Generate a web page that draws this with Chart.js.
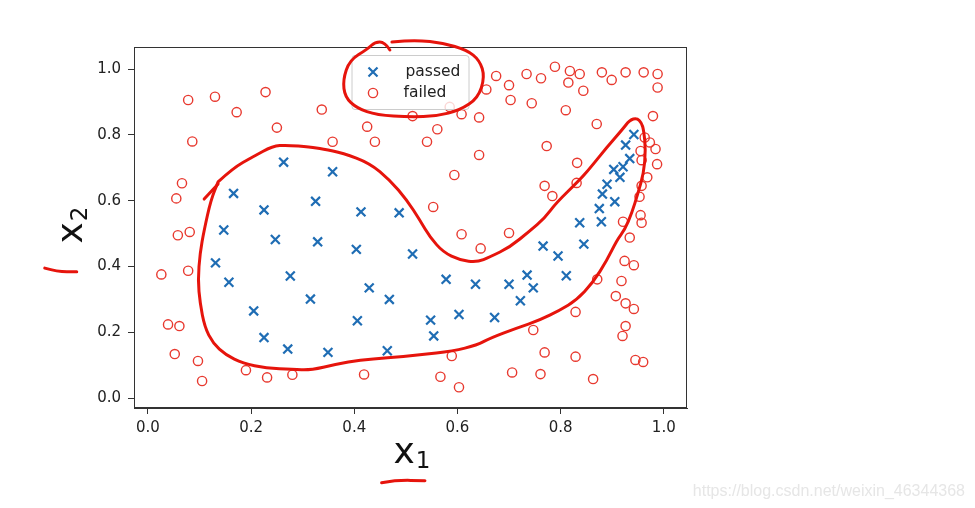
<!DOCTYPE html>
<html>
<head>
<meta charset="utf-8">
<script src="https://cdn.jsdelivr.net/npm/chart.js@4/dist/chart.umd.min.js"></script>
<style>
  html, body { margin: 0; padding: 0; background: #fff; }
  #wrap { width: 975px; height: 508px; position: relative; }
</style>
</head>
<body>
<div id="wrap"><canvas id="chart" width="975" height="508"></canvas></div>
<script>
// test scores of the samples
const passedX1 = [0.263, 0.166, 0.225, 0.325, 0.358, 0.413, 0.487, 0.942, 0.926, 0.934,
  0.921, 0.903, 0.915, 0.890, 0.881, 0.905, 0.875, 0.879, 0.837, 0.147, 0.247, 0.329,
  0.131, 0.157, 0.276, 0.315, 0.205, 0.225, 0.271, 0.404, 0.513, 0.429, 0.468, 0.578,
  0.635, 0.406, 0.548, 0.554, 0.603, 0.672, 0.349, 0.464, 0.766, 0.845, 0.795, 0.735,
  0.811, 0.700, 0.747, 0.722];
const passedX2 = [0.717, 0.622, 0.572, 0.598, 0.688, 0.566, 0.563, 0.801, 0.769, 0.728,
  0.703, 0.695, 0.671, 0.650, 0.620, 0.597, 0.576, 0.536, 0.533, 0.511, 0.482, 0.475,
  0.411, 0.352, 0.371, 0.301, 0.265, 0.184, 0.149, 0.452, 0.438, 0.335, 0.300, 0.361,
  0.346, 0.235, 0.237, 0.189, 0.254, 0.245, 0.139, 0.144, 0.462, 0.468, 0.432, 0.374,
  0.372, 0.346, 0.335, 0.296];

const failedX1 = [0.078, 0.130, 0.228, 0.172, 0.337, 0.250, 0.086, 0.066, 0.055,
  0.425, 0.358, 0.440, 0.513, 0.561, 0.541, 0.608, 0.642, 0.656, 0.675, 0.585, 0.642,
  0.594, 0.553,
  0.700, 0.734, 0.762, 0.789, 0.818, 0.815, 0.837, 0.844, 0.880, 0.899, 0.926, 0.961,
  0.988, 0.988, 0.703, 0.744, 0.810, 0.870, 0.979, 0.773, 0.832, 0.769, 0.784, 0.831,
  0.963, 0.973, 0.984, 0.955, 0.957, 0.987, 0.968, 0.957, 0.953, 0.955, 0.957, 0.921,
  0.058, 0.081, 0.026, 0.078, 0.039, 0.061, 0.052, 0.097, 0.105, 0.190, 0.231, 0.280,
  0.608, 0.645, 0.589, 0.419, 0.567, 0.603,
  0.700, 0.934, 0.924, 0.942, 0.871, 0.918, 0.907, 0.926, 0.942, 0.829, 0.926, 0.920,
  0.747, 0.769, 0.829, 0.945, 0.960, 0.706, 0.761, 0.863];
const failedX2 = [0.906, 0.916, 0.930, 0.869, 0.877, 0.822, 0.780, 0.653, 0.607,
  0.825, 0.779, 0.779, 0.857, 0.817, 0.779, 0.863, 0.853, 0.938, 0.979, 0.885, 0.739,
  0.678, 0.581,
  0.951, 0.985, 0.972, 1.007, 0.994, 0.959, 0.985, 0.934, 0.990, 0.967, 0.990, 0.990,
  0.985, 0.944, 0.906, 0.896, 0.875, 0.833, 0.857, 0.766, 0.715, 0.645, 0.614, 0.654,
  0.792, 0.777, 0.757, 0.751, 0.723, 0.711, 0.671, 0.645, 0.612, 0.556, 0.533, 0.536,
  0.495, 0.505, 0.376, 0.387, 0.224, 0.219, 0.134, 0.113, 0.052, 0.085, 0.063, 0.071,
  0.498, 0.455, 0.128, 0.072, 0.065, 0.033,
  0.502, 0.488, 0.417, 0.404, 0.361, 0.356, 0.310, 0.288, 0.271, 0.262, 0.219, 0.189,
  0.207, 0.139, 0.126, 0.116, 0.110, 0.078, 0.073, 0.058];

const seriesNames = ['passed', 'failed'];
const xTicks = [0, 0.2, 0.4, 0.6, 0.8, 1.0];
const yTicks = [0, 0.2, 0.4, 0.6, 0.8, 1.0];
// axis labels: base letter + subscript
const xTitle = ['x', '1'];
const yTitle = ['x', '2'];

// hand drawn red ink on the screenshot, in data units
const inkBoundary = [[0.136, 0.657], [0.165, 0.699], [0.203, 0.733], [0.242, 0.766], [0.269, 0.769],
  [0.314, 0.763], [0.339, 0.757], [0.378, 0.745], [0.430, 0.714], [0.469, 0.663], [0.502, 0.602],
  [0.527, 0.541], [0.547, 0.489], [0.572, 0.444], [0.605, 0.419], [0.638, 0.413], [0.663, 0.429],
  [0.702, 0.459], [0.740, 0.508], [0.769, 0.547], [0.791, 0.593], [0.837, 0.663], [0.857, 0.699],
  [0.890, 0.763], [0.919, 0.815], [0.934, 0.845], [0.948, 0.851], [0.957, 0.836], [0.961, 0.815],
  [0.965, 0.754], [0.961, 0.684], [0.950, 0.623], [0.938, 0.562], [0.924, 0.511], [0.909, 0.480],
  [0.890, 0.419], [0.862, 0.350], [0.831, 0.298], [0.798, 0.267], [0.760, 0.237], [0.715, 0.213],
  [0.663, 0.182], [0.638, 0.161], [0.591, 0.143], [0.527, 0.131], [0.463, 0.122], [0.411, 0.116],
  [0.366, 0.103], [0.314, 0.085], [0.281, 0.088], [0.229, 0.091], [0.184, 0.106], [0.151, 0.131],
  [0.126, 0.167], [0.110, 0.216], [0.101, 0.289], [0.097, 0.359], [0.101, 0.441], [0.109, 0.511],
  [0.122, 0.602], [0.136, 0.657]];
const inkHook = [[0.136, 0.651], [0.109, 0.605]];
const inkLegendLoop = [[0.469, 1.058], [0.459, 1.082], [0.440, 1.082], [0.426, 1.061],
  [0.391, 1.027], [0.378, 0.967], [0.382, 0.915], [0.405, 0.881], [0.444, 0.860], [0.508, 0.854],
  [0.560, 0.857], [0.605, 0.875], [0.640, 0.912], [0.653, 0.976], [0.643, 1.027], [0.618, 1.058],
  [0.572, 1.079], [0.521, 1.088], [0.473, 1.082]];
const inkYMark = [[-0.200, 0.395], [-0.176, 0.384], [-0.138, 0.384]];
const inkXMark = [[0.453, -0.257], [0.482, -0.249], [0.537, -0.251]];

const BLUE = '#1f6db4';
const RED = '#e8392f';
const INK = '#e6140c';

function toPoints(xs, ys) {
  return xs.map((x, i) => ({ x: x, y: ys[i] }));
}

function strokeInk(ctx, chart, pts) {
  const sx = chart.scales.x, sy = chart.scales.y;
  const p = pts.map(q => [sx.getPixelForValue(q[0]), sy.getPixelForValue(q[1])]);
  ctx.beginPath();
  ctx.moveTo(p[0][0], p[0][1]);
  for (let i = 1; i < p.length - 1; i++) {
    const mx = (p[i][0] + p[i + 1][0]) / 2, my = (p[i][1] + p[i + 1][1]) / 2;
    ctx.quadraticCurveTo(p[i][0], p[i][1], mx, my);
  }
  ctx.lineTo(p[p.length - 1][0], p[p.length - 1][1]);
  ctx.stroke();
}

// draws "x" with a mathtext-like subscript, starting at the baseline origin
function drawSubLabel(ctx, parts) {
  ctx.font = '36px "DejaVu Sans"';
  ctx.fillText(parts[0], 0, 0);
  const w = ctx.measureText(parts[0]).width;
  ctx.font = '23px "DejaVu Sans"';
  ctx.fillText(parts[1], w + 1, 5);
}

const framePlugin = {
  id: 'frame',
  afterDatasetsDraw(chart) {
    const { ctx, chartArea: a } = chart;
    ctx.save();
    // top and right spines
    ctx.strokeStyle = '#333';
    ctx.lineWidth = 1;
    ctx.strokeRect(a.left + 0.5, a.top + 0.5, a.right - a.left - 1, a.bottom - a.top - 1);

    // matplotlib style legend, upper centre
    const cx = (a.left + a.right) / 2;
    const bx = cx - 59, by = a.top + 8, bw = 117, bh = 54;
    ctx.fillStyle = 'rgba(255,255,255,0.8)';
    ctx.strokeStyle = '#cccccc';
    ctx.beginPath();
    ctx.roundRect(bx + 0.5, by + 0.5, bw, bh, 3);
    ctx.fill();
    ctx.stroke();
    ctx.font = '15.5px "DejaVu Sans"';
    ctx.textBaseline = 'middle';
    ctx.fillStyle = '#222';
    const rows = [by + 17, by + 38];
    ctx.strokeStyle = BLUE;
    ctx.lineWidth = 2.2;
    ctx.beginPath();
    ctx.moveTo(bx + 17, rows[0] - 4.5); ctx.lineTo(bx + 26, rows[0] + 4.5);
    ctx.moveTo(bx + 26, rows[0] - 4.5); ctx.lineTo(bx + 17, rows[0] + 4.5);
    ctx.stroke();
    ctx.strokeStyle = RED;
    ctx.lineWidth = 1.4;
    ctx.beginPath();
    ctx.arc(bx + 21.5, rows[1], 4.6, 0, Math.PI * 2);
    ctx.stroke();
    ctx.fillText(seriesNames[0], bx + 54, rows[0]);
    ctx.fillText(seriesNames[1], bx + 52, rows[1]);
    ctx.restore();
  },
  afterDraw(chart) {
    const { ctx, chartArea: a } = chart;
    ctx.save();
    // axis labels
    ctx.fillStyle = '#111';
    ctx.textBaseline = 'alphabetic';
    ctx.textAlign = 'left';
    ctx.save();
    ctx.translate((a.left + a.right) / 2 - 17, a.bottom + 55);
    drawSubLabel(ctx, xTitle);
    ctx.restore();
    ctx.save();
    ctx.translate(a.left - 52, (a.top + a.bottom) / 2 + 16);
    ctx.rotate(-Math.PI / 2);
    drawSubLabel(ctx, yTitle);
    ctx.restore();

    ctx.strokeStyle = INK;
    ctx.lineWidth = 3;
    ctx.lineCap = 'round';
    ctx.lineJoin = 'round';
    [inkBoundary, inkHook, inkLegendLoop, inkYMark, inkXMark].forEach(s => strokeInk(ctx, chart, s));

    ctx.font = '16px "Liberation Sans"';
    ctx.fillStyle = '#e6e6e6';
    ctx.textAlign = 'right';
    ctx.fillText('https://blog.csdn.net/weixin_46344368', 965, 496);
    ctx.restore();
  }
};

const tickFont = { family: 'DejaVu Sans', size: 15 };

new Chart(document.getElementById('chart'), {
  type: 'scatter',
  data: {
    datasets: [{
      label: seriesNames[0],
      data: toPoints(passedX1, passedX2),
      pointStyle: 'crossRot',
      radius: 6.3,
      borderWidth: 2.2,
      borderColor: BLUE,
      backgroundColor: BLUE
    }, {
      label: seriesNames[1],
      data: toPoints(failedX1, failedX2),
      pointStyle: 'circle',
      radius: 4.6,
      borderWidth: 1.4,
      borderColor: RED,
      backgroundColor: 'rgba(0,0,0,0)'
    }]
  },
  options: {
    responsive: false,
    animation: false,
    events: [],
    layout: { padding: { left: 0, top: 47, right: 288, bottom: 0 } },
    plugins: {
      legend: { display: false },
      tooltip: { enabled: false }
    },
    scales: {
      x: {
        type: 'linear',
        min: -0.027,
        max: 1.045,
        afterBuildTicks: s => { s.ticks = xTicks.map(v => ({ value: v })); },
        afterFit: s => { s.height = 100; },
        ticks: {
          font: tickFont,
          color: '#222',
          padding: 5,
          maxRotation: 0,
          callback: v => v.toFixed(1)
        },
        grid: { drawOnChartArea: false, drawTicks: true, tickLength: 6, color: '#333' },
        border: { display: true, color: '#333' }
      },
      y: {
        type: 'linear',
        min: -0.030,
        max: 1.067,
        afterBuildTicks: s => { s.ticks = yTicks.map(v => ({ value: v })); },
        afterFit: s => { s.width = 134; },
        ticks: {
          font: tickFont,
          color: '#222',
          padding: 7,
          callback: v => v.toFixed(1)
        },
        grid: { drawOnChartArea: false, drawTicks: true, tickLength: 6, color: '#333' },
        border: { display: true, color: '#333' }
      }
    }
  },
  plugins: [framePlugin]
});
</script>
</body>
</html>
